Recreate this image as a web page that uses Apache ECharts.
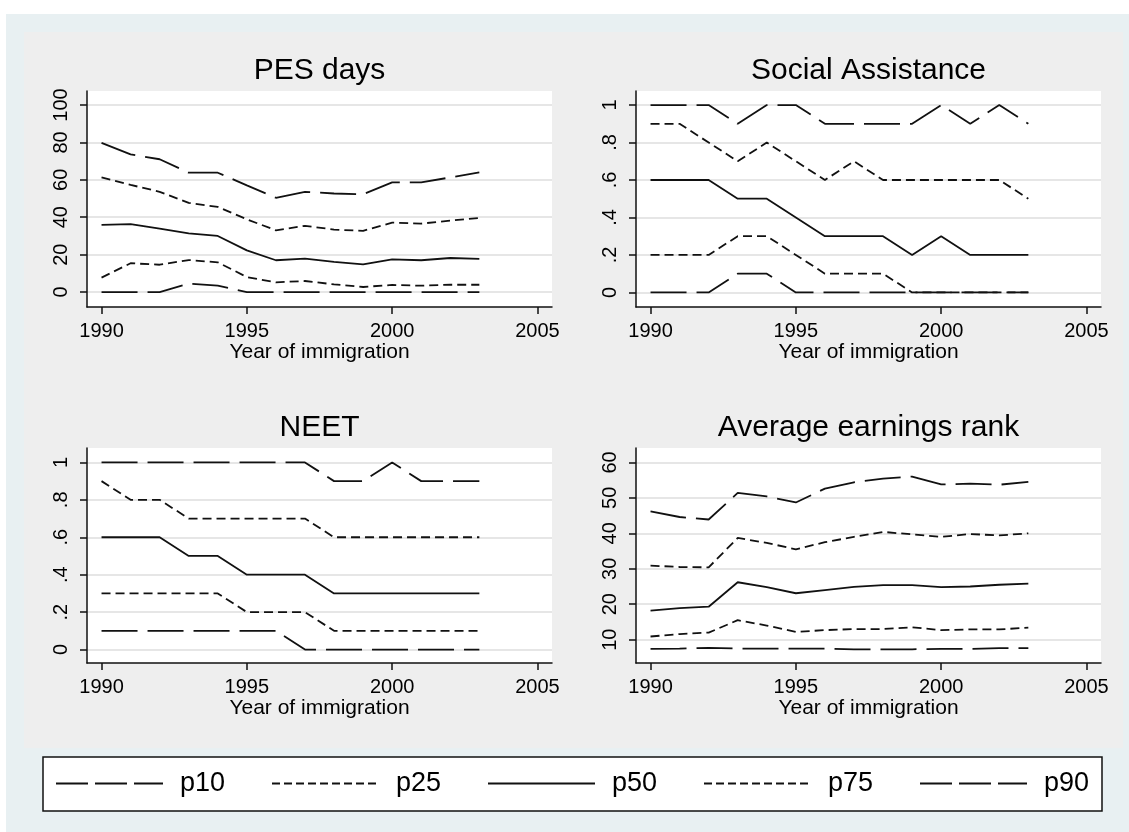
<!DOCTYPE html>
<html><head><meta charset="utf-8">
<script src="https://cdn.jsdelivr.net/npm/echarts@6/dist/echarts.min.js"></script>
<style>html,body{margin:0;padding:0;background:#ffffff}#c{width:1129px;height:832px}</style>
</head><body><div id="c"></div>
<script>
const years = [1990,1991,1992,1993,1994,1995,1996,1997,1998,1999,2000,2001,2002,2003];
const xTicks = [1990,1995,2000,2005];
const pesTicks = [0,20,40,60,80,100];
const shareTicks = [0,0.2,0.4,0.6,0.8,1];
const shareTickLabels = ['0','.2','.4','.6','.8','1'];
const earnTicks = [10,20,30,40,50,60];
const panelTitles = ['PES days','Social Assistance','NEET','Average earnings rank'];
const seriesNames = ['p10','p25','p50','p75','p90'];
const xTitle = 'Year of immigration';

// PES days
const pesP10 = [0,0,0,4.5,3.4,0,0,0,0,0,0,0,0,0];
const pesP25 = [7.7,15.4,14.6,17.1,15.9,8,5.2,5.9,4.1,2.7,3.8,3.4,3.9,3.9];
const pesP50 = [35.9,36.3,33.9,31.4,30,22.3,17,17.9,16.1,14.8,17.5,17,18.2,17.7];
const pesP75 = [61.3,57.3,53.6,47.7,45.5,38.9,33,35.4,33.4,32.7,37.1,36.6,38.2,39.6];
const pesP90 = [79.8,73.6,71,63.8,63.8,57,50.4,53.6,52.7,52.3,58.6,58.6,61.3,64];
// Social Assistance
const saP10 = [0,0,0,0.1,0.1,0,0,0,0,0,0,0,0,0];
const saP25 = [0.2,0.2,0.2,0.3,0.3,0.2,0.1,0.1,0.1,0,0,0,0,0];
const saP50 = [0.6,0.6,0.6,0.5,0.5,0.4,0.3,0.3,0.3,0.2,0.3,0.2,0.2,0.2];
const saP75 = [0.9,0.9,0.8,0.7,0.8,0.7,0.6,0.7,0.6,0.6,0.6,0.6,0.6,0.5];
const saP90 = [1,1,1,0.9,1,1,0.9,0.9,0.9,0.9,1,0.9,1,0.9];
// NEET
const neetP10 = [0.1,0.1,0.1,0.1,0.1,0.1,0.1,0,0,0,0,0,0,0];
const neetP25 = [0.3,0.3,0.3,0.3,0.3,0.2,0.2,0.2,0.1,0.1,0.1,0.1,0.1,0.1];
const neetP50 = [0.6,0.6,0.6,0.5,0.5,0.4,0.4,0.4,0.3,0.3,0.3,0.3,0.3,0.3];
const neetP75 = [0.9,0.8,0.8,0.7,0.7,0.7,0.7,0.7,0.6,0.6,0.6,0.6,0.6,0.6];
const neetP90 = [1,1,1,1,1,1,1,1,0.9,0.9,1,0.9,0.9,0.9];
// Average earnings rank
const earnP10 = [7.4,7.5,7.7,7.5,7.5,7.5,7.5,7.3,7.3,7.3,7.4,7.4,7.65,7.65];
const earnP25 = [10.9,11.6,12,15.5,14,12.2,12.7,13,13,13.5,12.7,12.9,12.9,13.4];
const earnP50 = [18.2,18.9,19.3,26.2,24.8,23.1,24,24.9,25.4,25.4,24.8,25,25.5,25.8];
const earnP75 = [30.9,30.5,30.4,38.7,37.3,35.5,37.5,39,40.4,39.7,39,39.8,39.4,40];
const earnP90 = [46.2,44.6,43.9,51.4,50.4,48.7,52.6,54.4,55.4,56,53.8,54,53.7,54.5];

const panels = [
  {title: panelTitles[0], data: [pesP10,pesP25,pesP50,pesP75,pesP90], ticks: pesTicks, labels: null, min: -8, max: 107.5},
  {title: panelTitles[1], data: [saP10,saP25,saP50,saP75,saP90], ticks: shareTicks, labels: shareTickLabels, min: -0.078, max: 1.075},
  {title: panelTitles[2], data: [neetP10,neetP25,neetP50,neetP75,neetP90], ticks: shareTicks, labels: shareTickLabels, min: -0.072, max: 1.077},
  {title: panelTitles[3], data: [earnP10,earnP25,earnP50,earnP75,earnP90], ticks: earnTicks, labels: null, min: 3.43, max: 64.06}
];

const FONT = '"Liberation Sans", Arial, Helvetica, sans-serif';
const INK = '#111111';
const longDash = [36, 10];
const shortDash = [9, 5];
const lineTypes = [longDash, shortDash, 'solid', shortDash, longDash];

const gridBoxes = [
  {left: 87, top: 91, width: 465, height: 216},
  {left: 636, top: 91, width: 465, height: 216},
  {left: 87, top: 448, width: 465, height: 215},
  {left: 636, top: 448, width: 465, height: 215}
];
const titleTops = [56, 56, 413, 413];

const grids = [], xAxes = [], yAxes = [], titles = [], series = [];
panels.forEach((p, i) => {
  const g = gridBoxes[i];
  grids.push(Object.assign({show: true, backgroundColor: '#ffffff', borderWidth: 0, containLabel: false}, g));
  titles.push({
    text: p.title, left: g.left + g.width / 2, top: titleTops[i], textAlign: 'center', padding: 0,
    textStyle: {fontFamily: FONT, fontSize: 30, fontWeight: 'normal', color: '#000', lineHeight: 30}
  });
  xAxes.push({
    type: 'value', gridIndex: i, min: 1989.5, max: 2005.5,
    name: xTitle, nameLocation: 'middle', nameGap: 34,
    nameTextStyle: {fontFamily: FONT, fontSize: 21, color: '#000'},
    axisLine: {show: true, onZero: false, lineStyle: {color: INK, width: 1.5}},
    axisTick: {show: true, length: 7, customValues: xTicks, lineStyle: {color: INK, width: 1.5}},
    axisLabel: {show: true, margin: 14, customValues: xTicks, fontFamily: FONT, fontSize: 20, color: '#000',
      formatter: (v) => String(Math.round(v))},
    splitLine: {show: false}
  });
  yAxes.push({
    type: 'value', gridIndex: i, min: p.min, max: p.max,
    axisLine: {show: true, onZero: false, lineStyle: {color: INK, width: 1.5}},
    axisTick: {show: true, length: 7, customValues: p.ticks, lineStyle: {color: INK, width: 1.5}},
    axisLabel: {
      show: true, rotate: 90, margin: 16, customValues: p.ticks,
      fontFamily: FONT, fontSize: 20, color: '#000',
      formatter: (v) => {
        if (!p.labels) return String(v);
        const k = p.ticks.findIndex(t => Math.abs(t - v) < 1e-9);
        return k >= 0 ? p.labels[k] : String(v);
      }
    },
    splitLine: {show: true, lineStyle: {color: '#e6e6e6', width: 2}}
  });
  p.data.forEach((arr, s) => {
    series.push({
      name: seriesNames[s], type: 'line', xAxisIndex: i, yAxisIndex: i,
      data: years.map((y, k) => [y, arr[k]]),
      symbol: 'none', showSymbol: false, silent: true,
      lineStyle: {color: INK, width: 1.8, type: lineTypes[s]},
      itemStyle: {color: INK}
    });
  });
});

const legendTypes = [[32, 7], [8, 4], 'solid', [8, 4], [32, 7]];

const chart = echarts.init(document.getElementById('c'), null, {renderer: 'canvas'});
chart.setOption({
  animation: false,
  backgroundColor: '#ffffff',
  graphic: [
    {type: 'rect', z: -10, shape: {x: 6, y: 14, width: 1123, height: 818}, style: {fill: '#e8f0f2'}},
    {type: 'rect', z: -9, shape: {x: 24, y: 32, width: 1099, height: 716}, style: {fill: '#eeeeee'}},
    {type: 'rect', z: -8, shape: {x: 43, y: 757, width: 1059, height: 54}, style: {fill: '#ffffff', stroke: '#111111', lineWidth: 1.5}}
  ],
  title: titles,
  grid: grids,
  xAxis: xAxes,
  yAxis: yAxes,
  legend: {
    left: 55, top: 770, padding: 0, orient: 'horizontal',
    itemWidth: 107, itemHeight: 20, itemGap: 43, selectedMode: false,
    itemStyle: {color: 'rgba(0,0,0,0)', borderWidth: 0, opacity: 0},
    textStyle: {fontFamily: FONT, fontSize: 27, color: '#000', width: 48, padding: [0, 0, 0, 12], lineHeight: 27},
    data: seriesNames.map((n, k) => ({name: n, lineStyle: {type: legendTypes[k], width: 2, color: INK}}))
  },
  series: series
});
</script>
</body></html>
